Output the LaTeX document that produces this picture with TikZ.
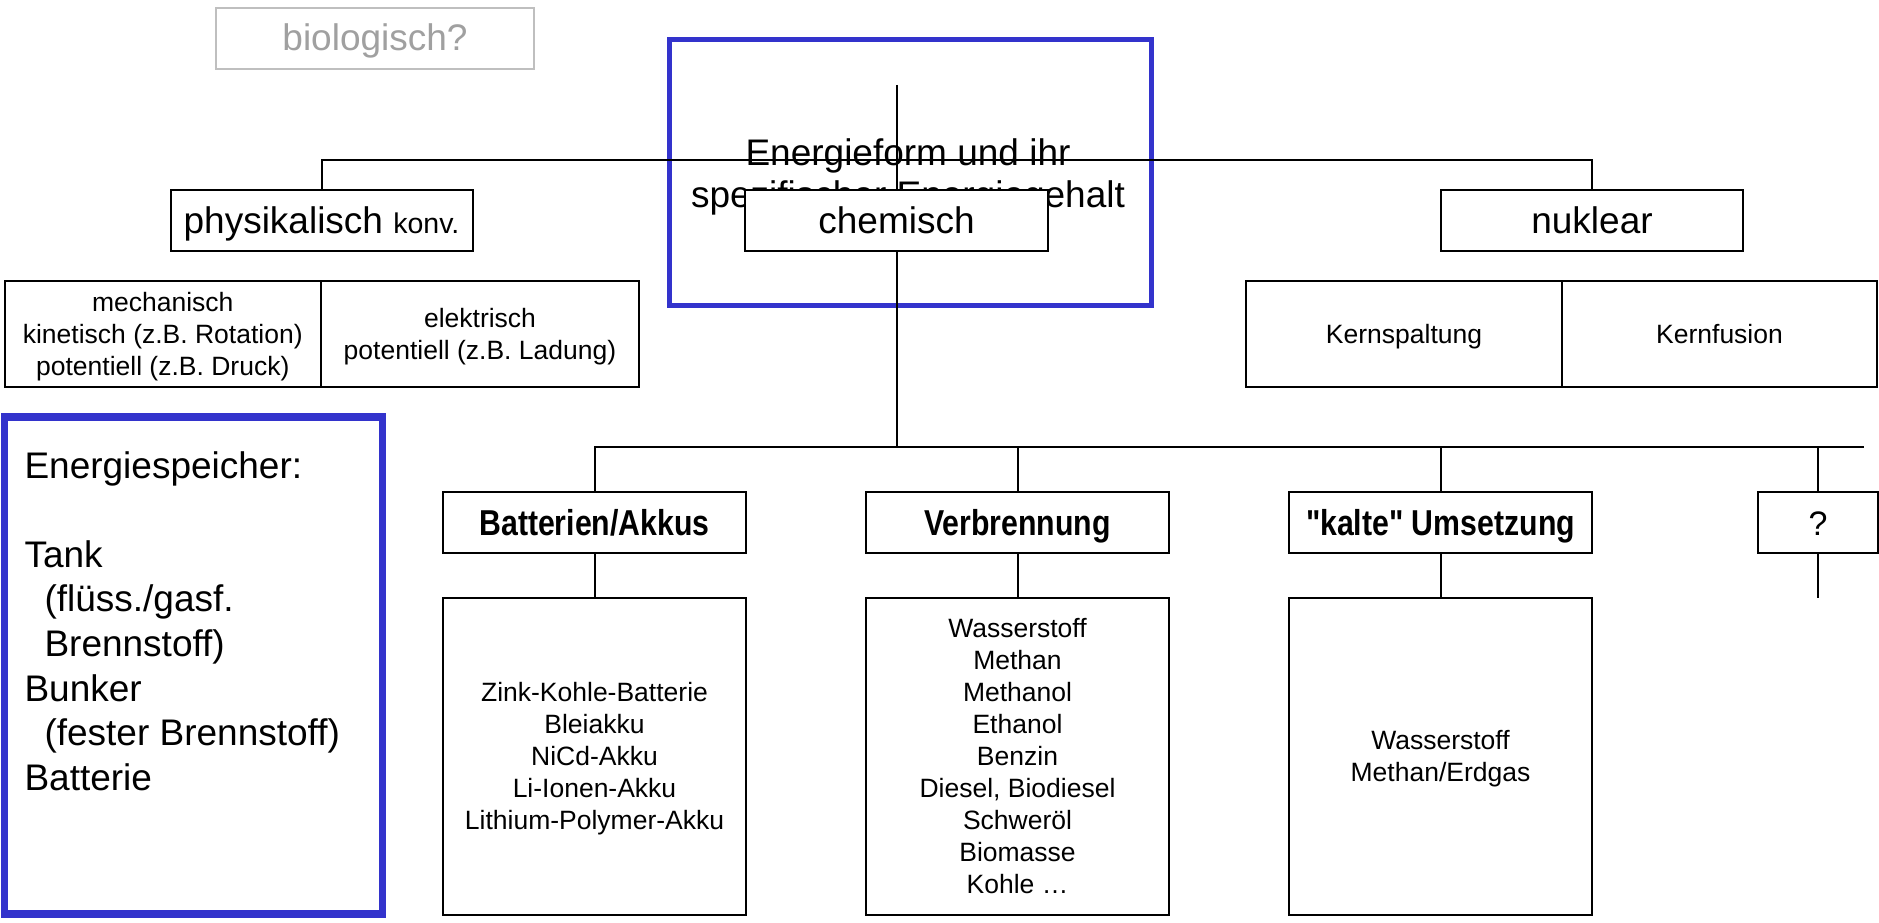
\documentclass[tikz,border=0pt]{standalone}
\usepackage{fontspec}
\setmainfont{Liberation Sans}[Ligatures=TeXOff]
\usepackage{graphicx}
\definecolor{frameblue}{RGB}{51,51,204}
\definecolor{softgray}{RGB}{191,191,191}
\definecolor{textgray}{RGB}{160,160,160}
\pgfdeclarelayer{back}
\pgfdeclarelayer{lines}
\pgfsetlayers{back,lines,main}
\newcommand{\linestack}[1]{\begin{tabular}[b]{@{}c@{}}#1\end{tabular}}
\begin{document}
\begin{tikzpicture}[x=1pt,y=-1pt,
  every node/.style={inner sep=0pt, outer sep=0pt},
  lbox/.style={draw, line width=2pt, fill=white, minimum height=61pt, text depth=0pt, text height=25pt, font=\fontsize{37}{44}\selectfont},
  cell/.style={draw, line width=2pt, minimum height=106pt, text depth=0pt, font=\fontsize{26.5}{32}\selectfont},
  headbox/.style={draw, line width=2pt, fill=white, minimum width=303pt, minimum height=61pt, text depth=0pt, text height=25pt, font=\fontsize{36}{43}\selectfont\bfseries},
  listbox/.style={draw, line width=2pt, fill=white, minimum width=303pt, minimum height=317pt, text depth=0pt, font=\fontsize{26.5}{32}\selectfont},
  lines/.style={text height={(#1-1)*32pt+18.6pt}},
  conn/.style={line width=2pt},
  blueframe/.style={draw=frameblue}
]
\useasboundingbox (0,0) rectangle (1879,923);

% blue frames
\begin{pgfonlayer}{back}
\node[blueframe, line width=5pt, minimum width=482pt, minimum height=266pt] (titlebox) at (910.5,172.5) {};
\node[blueframe, line width=7.5pt, minimum width=378pt, minimum height=497pt] (store) at (193.5,665.5) {};
\end{pgfonlayer}

% title text (partly hidden behind "chemisch")
\node[anchor=base, font=\fontsize{37}{42}\selectfont] (title) at (908,165)
  {\begin{tabular}[t]{@{}c@{}}Energieform und ihr\\spezifischer Energiegehalt\end{tabular}};

\node[anchor=base west, font=\fontsize{37}{44.6}\selectfont] (storetext) at (24.5,478)
  {\begin{tabular}[t]{@{}l@{}}Energiespeicher:\\ \\Tank\\\hspace*{20pt}(flüss./gasf.\\\hspace*{20pt}Brennstoff)\\Bunker\\\hspace*{20pt}(fester Brennstoff)\\Batterie\end{tabular}};

% top level
\node[lbox, draw=softgray, text=textgray, minimum width=318pt] (bio) at (375,38.5) {biologisch?};
\node[lbox, minimum width=302pt] (phys) at (321.5,220.5) {physikalisch {\fontsize{28.5}{34}\selectfont konv.}};
\node[lbox, minimum width=303pt] (chem) at (896.5,220.5) {chemisch};
\node[lbox, minimum width=302pt] (nuk) at (1592,220.5) {nuklear};

% second row cells
\node[cell, lines=3, minimum width=316.5pt] (mech) at (162.75,334) {\linestack{mechanisch\\kinetisch (z.B. Rotation)\\potentiell (z.B. Druck)}};
\node[cell, lines=2, minimum width=318pt] (elek) at (480,334) {\linestack{elektrisch\\potentiell (z.B. Ladung)}};
\node[cell, lines=1, minimum width=316pt] (spalt) at (1404,334) {Kernspaltung};
\node[cell, lines=1, minimum width=315pt] (fusion) at (1719.5,334) {Kernfusion};

% chemical branches
\node[headbox] (bat) at (594.5,522.5) {\scalebox{0.84}[1]{Batterien/Akkus}};
\node[headbox] (verb) at (1017.5,522.5) {\scalebox{0.84}[1]{Verbrennung}};
\node[headbox] (kalte) at (1440.5,522.5) {\scalebox{0.84}[1]{"kalte" Umsetzung}};
\node[lbox, minimum width=120pt, font=\fontsize{34}{40}\selectfont] (q) at (1818,522.5) {?};

\node[listbox, lines=5] (batl) at (594.5,756.5) {\linestack{Zink-Kohle-Batterie\\Bleiakku\\NiCd-Akku\\Li-Ionen-Akku\\Lithium-Polymer-Akku}};
\node[listbox, lines=9] (verbl) at (1017.5,756.5) {\linestack{Wasserstoff\\Methan\\Methanol\\Ethanol\\Benzin\\Diesel, Biodiesel\\Schweröl\\Biomasse\\Kohle …}};
\node[listbox, lines=2] (kaltel) at (1440.5,756.5) {\linestack{Wasserstoff\\Methan/Erdgas}};

% connector coordinates
\coordinate (ctop) at (896.5,85);
\coordinate (bar1) at (896.5,160);
\coordinate (bar2) at (896.5,447);
\coordinate (bar2end) at (1864,447);
\coordinate (qend) at (1818,598);

\begin{pgfonlayer}{lines}
\draw[conn] (phys.north) |- (bar1) -| (nuk.north);
\draw[conn] (ctop) -- (chem.north);
\draw[conn] (chem.south) -- (bar2);
\draw[conn] (bat.north) |- (bar2) -- (bar2end);
\draw[conn] (verb.north) -- (verb.north |- bar2);
\draw[conn] (kalte.north) -- (kalte.north |- bar2);
\draw[conn] (q.north) -- (q.north |- bar2);
\draw[conn] (bat.south) -- (batl.north);
\draw[conn] (verb.south) -- (verbl.north);
\draw[conn] (kalte.south) -- (kaltel.north);
\draw[conn] (q.south) -- (qend);
\end{pgfonlayer}
\end{tikzpicture}
\end{document}
